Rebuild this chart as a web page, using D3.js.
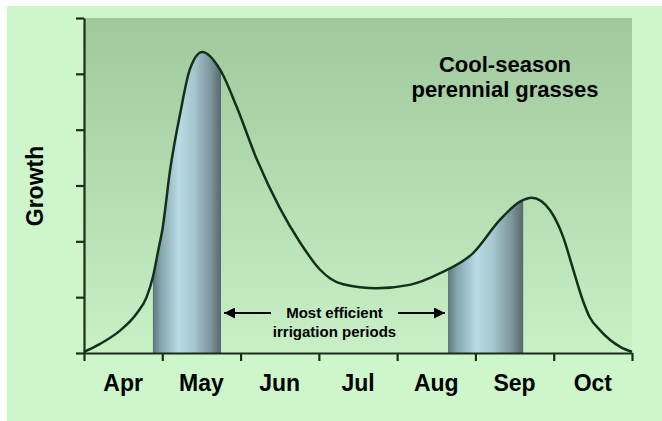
<!DOCTYPE html>
<html>
<head>
<meta charset="utf-8">
<script src="https://cdn.jsdelivr.net/npm/d3@7"></script>
<style>
  body { margin: 0; background: #fff; }
  text { font-family: "Liberation Sans", Arial, sans-serif; font-weight: bold; fill: #000; }
</style>
</head>
<body>
<script>
// month labels on the x axis (each month spans one unit)
var months = ["Apr", "May", "Jun", "Jul", "Aug", "Sep", "Oct"];

// growth curve (x in months from start of Apr, y in tick units)
var growthMonth = [0, 0.20, 0.46, 0.68, 0.80, 0.88, 0.95, 1.00, 1.10, 1.23, 1.35, 1.51, 1.74, 1.95, 2.21, 2.50, 2.76, 3.01, 3.15, 3.31, 3.74, 4.16, 4.55, 4.97, 5.31, 5.57, 5.72, 5.95, 6.12, 6.25, 6.37, 6.46, 6.59, 6.85, 7.0];
var growthValue = [0.02, 0.16, 0.40, 0.72, 1.00, 1.36, 1.85, 2.20, 3.28, 4.30, 5.07, 5.39, 5.07, 4.41, 3.46, 2.60, 1.98, 1.50, 1.33, 1.23, 1.16, 1.22, 1.43, 1.79, 2.38, 2.71, 2.78, 2.56, 2.08, 1.49, 0.95, 0.64, 0.41, 0.11, 0.02];

// shaded irrigation periods (start, end in months)
var periodStart = [0.88, 4.65];
var periodEnd = [1.75, 5.61];

var yTicks = [0, 1, 2, 3, 4, 5, 6];

var width = 662, height = 421;
var plotLeft = 84, plotRight = 632, plotTop = 18, plotBottom = 353;

var svg = d3.select("body").append("svg")
    .attr("width", width)
    .attr("height", height);

var defs = svg.append("defs");

var bg = defs.append("linearGradient")
    .attr("id", "plotbg")
    .attr("x1", 0).attr("y1", 0).attr("x2", 0).attr("y2", 1);
bg.append("stop").attr("offset", "0%").attr("stop-color", "#9fc89d");
bg.append("stop").attr("offset", "100%").attr("stop-color", "#c8f0c6");

var band = defs.append("linearGradient")
    .attr("id", "band")
    .attr("x1", 0).attr("y1", 0).attr("x2", 1).attr("y2", 0);
band.append("stop").attr("offset", "0%").attr("stop-color", "#5c777c");
band.append("stop").attr("offset", "12%").attr("stop-color", "#86a6ad");
band.append("stop").attr("offset", "38%").attr("stop-color", "#b8dbe5");
band.append("stop").attr("offset", "60%").attr("stop-color", "#a6c6cf");
band.append("stop").attr("offset", "85%").attr("stop-color", "#7b959b");
band.append("stop").attr("offset", "100%").attr("stop-color", "#56696d");

defs.append("marker")
    .attr("id", "arrow")
    .attr("viewBox", "0 0 10 10")
    .attr("refX", 10).attr("refY", 5)
    .attr("markerWidth", 6).attr("markerHeight", 5)
    .attr("markerUnits", "strokeWidth")
    .attr("orient", "auto")
  .append("path")
    .attr("d", "M0,0 L10,5 L0,10 Z")
    .attr("fill", "#000");

// outer panel
svg.append("rect")
    .attr("x", 7).attr("y", 6)
    .attr("width", width - 7).attr("height", height - 6)
    .attr("fill", "#cdf6cb");

svg.append("rect")
    .attr("x", plotLeft).attr("y", plotTop)
    .attr("width", plotRight - plotLeft).attr("height", plotBottom - plotTop)
    .attr("fill", "url(#plotbg)");

var x = d3.scaleLinear().domain([0, months.length]).range([plotLeft, plotRight]);
var y = d3.scaleLinear().domain([0, 6]).range([plotBottom, plotTop]);

var points = growthMonth.map(function(m, i) { return [m, growthValue[i]]; });

var area = d3.area()
    .x(function(d) { return x(d[0]); })
    .y0(y(0))
    .y1(function(d) { return y(d[1]); })
    .curve(d3.curveMonotoneX);

var line = d3.line()
    .x(function(d) { return x(d[0]); })
    .y(function(d) { return y(d[1]); })
    .curve(d3.curveMonotoneX);

defs.append("clipPath").attr("id", "under")
  .append("path")
    .attr("d", area(points));

svg.append("g")
    .attr("clip-path", "url(#under)")
  .selectAll("rect")
  .data(periodStart)
  .enter().append("rect")
    .attr("x", function(d) { return x(d); })
    .attr("y", plotTop)
    .attr("width", function(d, i) { return x(periodEnd[i]) - x(d); })
    .attr("height", plotBottom - plotTop)
    .attr("fill", "url(#band)");

svg.append("path")
    .attr("d", line(points))
    .attr("fill", "none")
    .attr("stroke", "#14301a")
    .attr("stroke-width", 2.5);

// axes
var yAxis = svg.append("g")
    .attr("transform", "translate(" + plotLeft + ",0)")
    .call(d3.axisLeft(y).tickValues(yTicks).tickSize(8).tickSizeOuter(0).tickFormat(""));

var xAxis = svg.append("g")
    .attr("transform", "translate(0," + plotBottom + ")")
    .call(d3.axisBottom(x).tickValues(d3.range(months.length + 1)).tickSize(8).tickSizeOuter(0).tickFormat(""));

[yAxis, xAxis].forEach(function(a) {
  a.selectAll("path, line").attr("stroke", "#1a2e1a").attr("stroke-width", 2.2);
});

svg.append("g")
  .selectAll("text")
  .data(months)
  .enter().append("text")
    .attr("x", function(d, i) { return x(i + 0.5); })
    .attr("y", 391)
    .attr("text-anchor", "middle")
    .style("font-size", "23px")
    .text(function(d) { return d; });

svg.append("text")
    .attr("transform", "translate(43,186) rotate(-90)")
    .attr("text-anchor", "middle")
    .style("font-size", "23px")
    .text("Growth");

svg.append("text")
    .attr("x", 505).attr("y", 72)
    .attr("text-anchor", "middle")
    .style("font-size", "22px")
    .text("Cool-season");

svg.append("text")
    .attr("x", 505).attr("y", 97)
    .attr("text-anchor", "middle")
    .style("font-size", "22px")
    .text("perennial grasses");

// annotation between the two periods
var tipL = x(periodEnd[0]) + 3, tipR = x(periodStart[1]) - 3;
var midX = (tipL + tipR) / 2;

svg.append("line")
    .attr("x1", tipL + 47).attr("y1", 313)
    .attr("x2", tipL).attr("y2", 313)
    .attr("stroke", "#000").attr("stroke-width", 2.2)
    .attr("marker-end", "url(#arrow)");

svg.append("line")
    .attr("x1", tipR - 47).attr("y1", 313)
    .attr("x2", tipR).attr("y2", 313)
    .attr("stroke", "#000").attr("stroke-width", 2.2)
    .attr("marker-end", "url(#arrow)");

svg.append("text")
    .attr("x", midX).attr("y", 318)
    .attr("text-anchor", "middle")
    .style("font-size", "15px")
    .text("Most efficient");

svg.append("text")
    .attr("x", midX).attr("y", 337)
    .attr("text-anchor", "middle")
    .style("font-size", "15px")
    .text("irrigation periods");
</script>
</body>
</html>
